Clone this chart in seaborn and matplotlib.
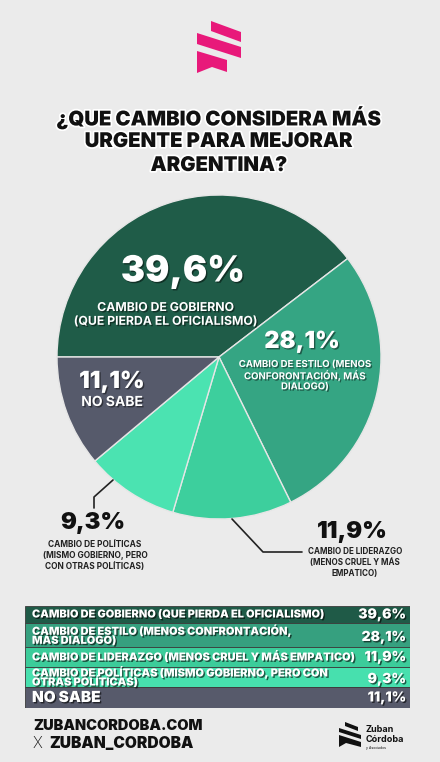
import matplotlib
matplotlib.use('Agg')
import matplotlib.pyplot as plt
import matplotlib.patheffects as pe
from matplotlib.patches import Polygon
import seaborn as sns

# datos
categorias = ['CAMBIO DE GOBIERNO (QUE PIERDA EL OFICIALISMO)',
              'CAMBIO DE ESTILO (MENOS CONFRONTACIÓN,\nMÁS DIALOGO)',
              'CAMBIO DE LIDERAZGO (MENOS CRUEL Y MÁS EMPATICO)',
              'CAMBIO DE POLÍTICAS (MISMO GOBIERNO, PERO CON\nOTRAS POLÍTICAS)',
              'NO SABE']
valores = [39.6, 28.1, 11.9, 9.3, 11.1]
etiquetas_pct = ['39,6%', '28,1%', '11,9%', '9,3%', '11,1%']
colores = ['#1f5c48', '#35a583', '#3dcf9d', '#4be3b1', '#565a6b']

sns.set_style('white')
plt.rcParams['font.family'] = ['Inter', 'DejaVu Sans']

W, H = 440, 762
fig = plt.figure(figsize=(W / 100, H / 100), dpi=100)
fig.patch.set_facecolor('#ebebeb')

# torta
cx, cy, r = 219, 357, 162
ax = fig.add_axes([(cx - r) / W, 1 - (cy + r) / H, 2 * r / W, 2 * r / H])
ax.pie(valores, colors=colores, startangle=180, counterclock=False, radius=1,
       wedgeprops=dict(edgecolor='#e6e6e6', linewidth=1))
ax.set_xlim(-1, 1)
ax.set_ylim(-1, 1)
ax.set_aspect('auto')

# capa superior en coordenadas de pixel
bg = fig.add_axes([0, 0, 1, 1])
bg.set_xlim(0, W)
bg.set_ylim(H, 0)
bg.axis('off')
bg.set_zorder(5)

# logo rosa
rosa = '#e8197a'
for pts in [[(211, 21), (241, 32), (241, 42), (211, 31)],
            [(197, 33), (241, 47), (241, 58), (197, 44)],
            [(197, 51), (227, 60), (227, 72), (212, 67), (197, 73)]]:
    bg.add_patch(Polygon(pts, closed=True, color=rosa, lw=0))

# titulo
halo = [pe.withStroke(linewidth=2.5, foreground='white')]
for y, linea in zip([118, 142, 166], ['¿QUE CAMBIO CONSIDERA MÁS',
                                      'URGENTE PARA MEJORAR', 'ARGENTINA?']):
    bg.text(219, y, linea, ha='center', va='center', fontsize=14.6,
            fontweight='black', color='#111111', path_effects=halo)

sombra = [pe.SimplePatchShadow(offset=(1, -1), shadow_rgbFace='black', alpha=0.45), pe.Normal()]

# etiquetas dentro de la torta
bg.text(183, 272, etiquetas_pct[0], ha='center', va='center', fontsize=26,
        fontweight='black', color='white', path_effects=sombra)
bg.text(165, 302, 'CAMBIO DE GOBIERNO\n(QUE PIERDA EL OFICIALISMO)', ha='center', va='top',
        fontsize=8.8, fontweight='bold', color='white', linespacing=1.2, path_effects=sombra)

bg.text(302, 342, etiquetas_pct[1], ha='center', va='center', fontsize=17,
        fontweight='black', color='white', path_effects=sombra)
bg.text(305, 360, 'CAMBIO DE ESTILO (MENOS\nCONFORONTACIÓN, MÁS\nDIALOGO)', ha='center', va='top',
        fontsize=6.9, fontweight='bold', color='white', linespacing=1.15, path_effects=sombra)

bg.text(112, 382, etiquetas_pct[4], ha='center', va='center', fontsize=17,
        fontweight='black', color='white', path_effects=sombra)
bg.text(112, 402, 'NO SABE', ha='center', va='center', fontsize=10,
        fontweight='bold', color='white', path_effects=sombra)

# etiquetas exteriores con lineas guia
bg.plot([113, 94, 94], [480, 497, 508], color='#222222', lw=1.2)
bg.text(93, 523, etiquetas_pct[3], ha='center', va='center', fontsize=17,
        fontweight='black', color='#111111')
bg.text(95, 540, 'CAMBIO DE POLÍTICAS\n(MISMO GOBIERNO, PERO\nCON OTRAS POLÍTICAS)', ha='center', va='top',
        fontsize=6, fontweight='bold', color='#222222', linespacing=1.3)

bg.plot([232, 263, 302], [519, 552, 552], color='#222222', lw=1.2)
bg.text(352, 532, etiquetas_pct[2], ha='center', va='center', fontsize=17,
        fontweight='black', color='#111111')
bg.text(355, 547, 'CAMBIO DE LIDERAZGO\n(MENOS CRUEL Y MÁS\nEMPATICO)', ha='center', va='top',
        fontsize=5.8, fontweight='bold', color='#222222', linespacing=1.3)

# tabla
alturas = [17, 24, 20, 20, 21]
tx0, tx1, ty0 = 25, 410, 606
tab = fig.add_axes([tx0 / W, 1 - (ty0 + sum(alturas)) / H, (tx1 - tx0) / W, sum(alturas) / H])
tab.set_xlim(0, 1)
tab.set_ylim(sum(alturas), 0)
tab.axis('off')
centros = []
acum = 0
for h in alturas:
    centros.append(acum + h / 2)
    acum += h
colores_tabla = ['#1f5a47', '#36a07f', '#3ccc9a', '#47e0ae', '#575a6b']
tab.barh(centros, [1] * len(alturas), height=alturas, left=0, color=colores_tabla,
         edgecolor='#3a3a3a', linewidth=0.6)
sombra_t = [pe.SimplePatchShadow(offset=(1, -1), shadow_rgbFace='black', alpha=0.6), pe.Normal()]
for i, (cat, pct) in enumerate(zip(categorias, etiquetas_pct)):
    tam = 11 if cat == 'NO SABE' else 7.9
    tab.text(7 / 385, centros[i], cat, ha='left', va='center', fontsize=tam, fontweight='black',
             color='white', linespacing=0.78, path_effects=sombra_t)
    tab.text(1 - 4 / 385, centros[i] + (2 if '\n' in cat else 0), pct, ha='right', va='center',
             fontsize=10, fontweight='black', color='white', path_effects=sombra_t)

# pie de pagina
bg.text(33, 726, 'ZUBANCORDOBA.COM', ha='left', va='center', fontsize=10.5,
        fontweight='black', color='#111111')
bg.text(33, 743, 'X', ha='left', va='center', fontsize=11, fontweight='light', color='#111111')
bg.text(49, 743, 'ZUBAN_CORDOBA', ha='left', va='center', fontsize=11.2,
        fontweight='black', color='#111111')

for pts in [[(345, 722), (358, 727), (358, 731), (345, 726)],
            [(339, 728), (361, 735), (361, 739), (339, 732)],
            [(339, 735), (361, 742), (361, 747), (346, 743), (339, 747)]]:
    bg.add_patch(Polygon(pts, closed=True, color='#111111', lw=0))
bg.text(366, 729, 'Zuban', ha='left', va='center', fontsize=6.5, fontweight='bold', color='#111111')
bg.text(366, 739, 'Córdoba', ha='left', va='center', fontsize=6.5, fontweight='bold', color='#111111')
bg.text(366, 748, 'y Asociados', ha='left', va='center', fontsize=2.5, color='#111111')

plt.savefig('out.png', dpi=100, facecolor=fig.get_facecolor())
